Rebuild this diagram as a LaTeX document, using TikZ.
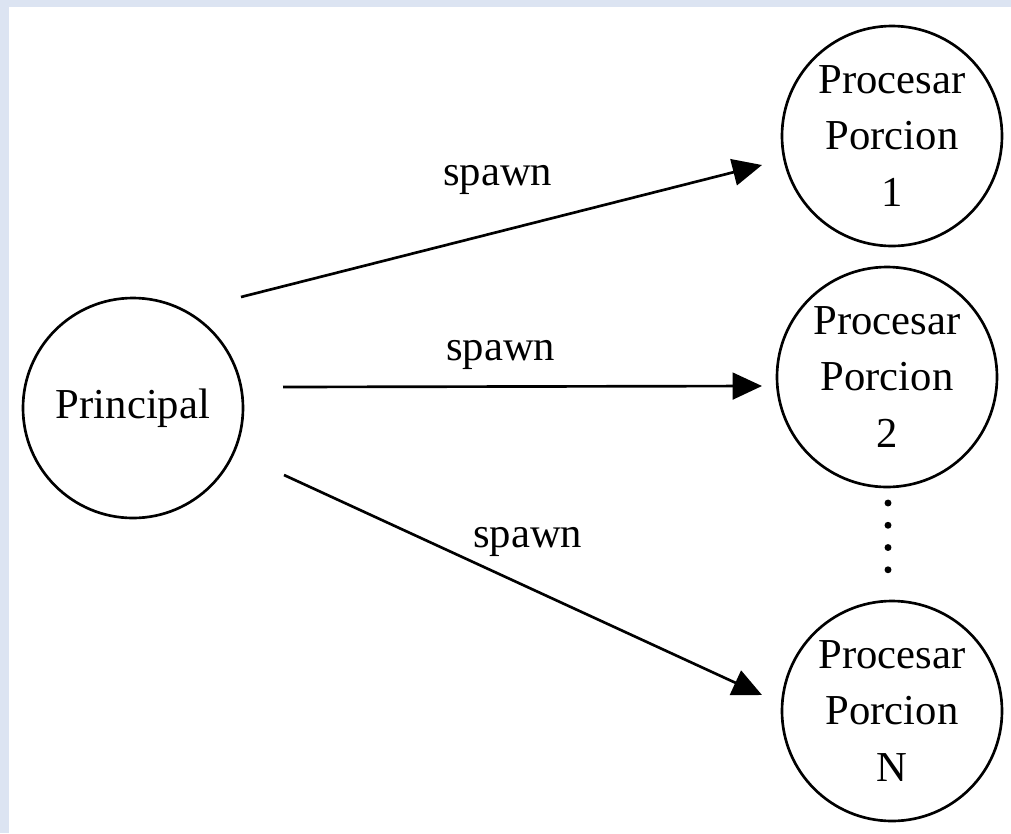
\documentclass[tikz,border=0pt]{standalone}
\usepackage{fontspec}
\setmainfont{Liberation Serif}
\usetikzlibrary{arrows.meta}
\definecolor{frameblue}{RGB}{220,228,242}
\tikzset{
  proc/.style={circle, draw=black, line width=2pt, minimum size=165pt, inner sep=0pt,
    align=center, font=\fontsize{32}{42.5}\selectfont},
  conn/.style={line width=2pt, -{Triangle[length=22pt,width=20pt]}},
  lbl/.style={anchor=base west, inner sep=0pt, font=\fontsize{32}{38}\selectfont},
  dotline/.style={line width=5.2pt, line cap=round, dash pattern=on 0pt off 16.69pt}
}
\begin{document}
\begin{tikzpicture}[x=0.75pt, y=-0.75pt]
\fill[frameblue] (0,0) rectangle (1011,833);
\fill[white] (9,7) rectangle (1011,833);
\useasboundingbox (0,0) rectangle (1011,833);

\node[proc] (main) at (133,408) {Principal};
\node[proc] (p1) at (892,136) {Procesar\\Porcion\\1};
\node[proc] (p2) at (887,377) {Procesar\\Porcion\\2};
\node[proc] (pn) at (892,711) {Procesar\\Porcion\\N};

\coordinate (a1s) at (241,297);
\coordinate (a1e) at (762,165);
\coordinate (a2s) at (283,387);
\coordinate (a2e) at (762,386);
\coordinate (a3s) at (284,475);
\coordinate (a3e) at (762,695);

\draw[conn] (a1s) -- (a1e);
\draw[conn] (a2s) -- (a2e);
\draw[conn] (a3s) -- (a3e);

\node[lbl] (l1) at (443,185) {spawn};
\node[lbl] (l2) at (446,360) {spawn};
\node[lbl] (l3) at (473,547) {spawn};

\coordinate (d1) at (888,503);
\coordinate (d2) at (888,592);
\draw[dotline] (d1) -- (d2);
\end{tikzpicture}
\end{document}
